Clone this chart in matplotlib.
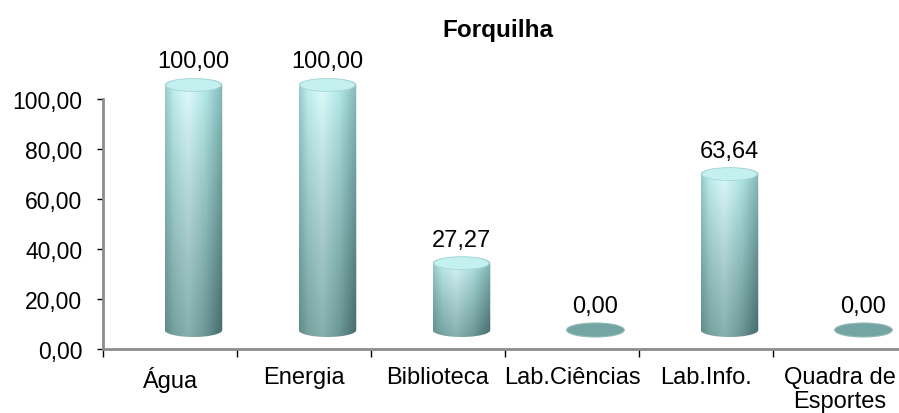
"""
Grafico de cilindros (estilo Excel 3D) da infraestrutura da escola Forquilha.
"""
import matplotlib

matplotlib.use("Agg")

import matplotlib.pyplot as plt
import numpy as np
from matplotlib.colors import to_rgb
from matplotlib.patches import Ellipse, Polygon

plt.rcParams["font.family"] = ["Liberation Sans", "DejaVu Sans"]

TITLE = "Forquilha"
CATEGORIES = ["Água", "Energia", "Biblioteca", "Lab.Ciências", "Lab.Info.", "Quadra de\nEsportes"]
VALUES = [100.00, 100.00, 27.27, 0.00, 63.64, 0.00]
Y_TICKS = [0, 20, 40, 60, 80, 100]

# "projecao" 3D aproximada: o cilindro fica mais para a direita e acima do piso
BAR_OFFSET = 0.175
BAR_WIDTH = 0.43
FLOOR = 7.6
SCALE = 0.98
ELL_H = 5.6

T_KEYS = [0.0, 0.15, 0.4, 0.7, 1.0]
TOP_COLS = ["#9ccfcf", "#c4f2f2", "#e2ffff", "#b8ecec", "#86bcbc"]
BOT_COLS = ["#5f8a88", "#74a09e", "#86b0ae", "#6a9694", "#45686a"]


def fmt(v: float) -> str:
    return f"{v:.2f}".replace(".", ",")


def profile(cols: list[str], n: int) -> np.ndarray:
    t = np.linspace(0, 1, n)
    rgb = np.array([to_rgb(c) for c in cols])
    return np.stack([np.interp(t, T_KEYS, rgb[:, k]) for k in range(3)], axis=1)


def draw_cylinder(ax, cx: float, value: float) -> float:
    x0, x1 = cx - BAR_WIDTH / 2, cx + BAR_WIDTH / 2
    yb = FLOOR
    yt = FLOOR + value * SCALE
    a, b = BAR_WIDTH / 2, ELL_H / 2

    if value <= 0:
        ax.add_patch(Ellipse((cx, yb), BAR_WIDTH, ELL_H, facecolor="#74a5a2",
                             edgecolor="#8fb8b5", lw=0.8, zorder=3))
        return yb + b

    ang_low = np.linspace(np.pi, 2 * np.pi, 60)
    ang_up = np.linspace(0, np.pi, 60)
    pts = [(x0, yt), (x0, yb)]
    pts += list(zip(cx + a * np.cos(ang_low), yb + b * np.sin(ang_low)))
    pts += [(x1, yt)]
    pts += list(zip(cx + a * np.cos(ang_up), yt + b * np.sin(ang_up)))
    body = Polygon(pts, closed=True, facecolor="none", edgecolor="none")
    ax.add_patch(body)

    n, m = 200, 200
    top = profile(TOP_COLS, n)
    bot = profile(BOT_COLS, n)
    s = np.linspace(0, 1, m)[:, None, None] ** 0.9
    img = top[None, :, :] * (1 - s) + bot[None, :, :] * s
    im = ax.imshow(img, extent=[x0, x1, yb - b, yt + b], aspect="auto",
                   interpolation="bilinear", zorder=2)
    im.set_clip_path(body)

    ax.add_patch(Ellipse((cx, yt), BAR_WIDTH * 0.96, ELL_H * 0.92,
                         facecolor="#c4f0f0", edgecolor="#a8d6d6", lw=0.6, zorder=3))
    return yt + b


def main() -> None:
    fig = plt.figure(figsize=(8.99, 4.14), dpi=100)
    ax = fig.add_axes([103 / 899, 64 / 414, 804 / 899, 280 / 414])

    for i, v in enumerate(VALUES):
        cx = i + 0.5 + BAR_OFFSET
        top = draw_cylinder(ax, cx, v)
        ax.annotate(fmt(v), (cx, top), xytext=(0, 4), textcoords="offset points",
                    ha="center", va="bottom", fontsize=17)

    ax.set_xlim(0, 6)
    ax.set_ylim(0, 112)

    for side in ("top", "right"):
        ax.spines[side].set_visible(False)
    for side in ("left", "bottom"):
        ax.spines[side].set_color("#8c8c8c")
        ax.spines[side].set_linewidth(2)
    ax.spines["left"].set_bounds(0, 100)

    ax.set_yticks(Y_TICKS)
    ax.set_yticklabels([fmt(t) for t in Y_TICKS])
    ax.tick_params(axis="y", length=4, width=1, color="black", pad=11, labelsize=16.5)

    ax.set_xticks(range(7))
    ax.set_xticklabels([])
    ax.set_xticks([i + 0.5 for i in range(6)], minor=True)
    ax.set_xticklabels(CATEGORIES, minor=True)
    ax.tick_params(axis="x", which="major", length=6, width=1, color="black")
    ax.tick_params(axis="x", which="minor", length=0, pad=12.5, labelsize=17)
    for lbl in ax.get_xticklabels(minor=True):
        lbl.set_linespacing(1.12)

    fig.text(498 / 899, 1 - 30 / 414, TITLE, ha="center", va="center",
             fontsize=17.5, fontweight="bold")

    fig.savefig("out.png", dpi=100)
    plt.close(fig)


if __name__ == "__main__":
    main()
